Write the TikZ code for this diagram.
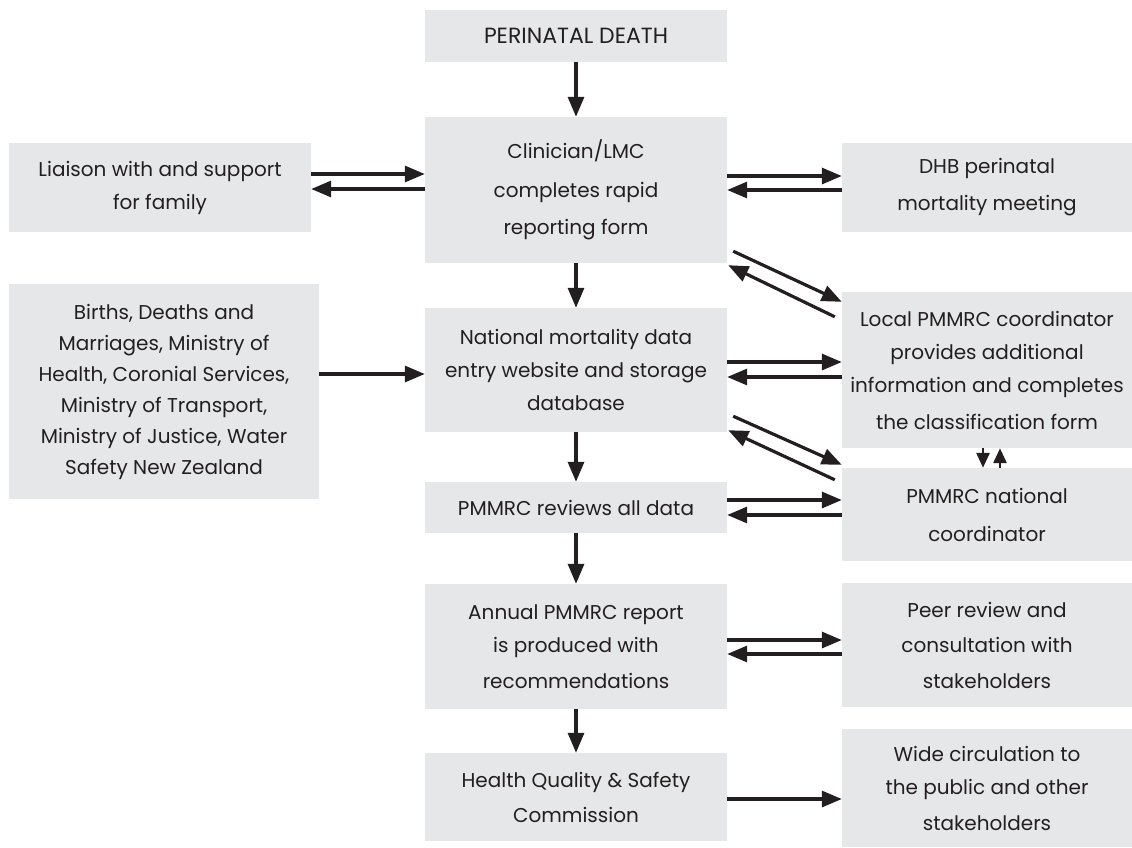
\documentclass[tikz,border=0pt]{standalone}
\usepackage{fontspec}
\setmainfont{Poppins}
\usetikzlibrary{arrows.meta}
\definecolor{boxgray}{HTML}{E6E7E8}
\definecolor{ink}{HTML}{231F20}
\begin{document}
\begin{tikzpicture}[x=1pt,y=-1pt,
  box/.style={fill=boxgray, draw=none, inner sep=0pt, align=center, text=ink,
    font=\fontsize{20}{33}\selectfont},
  arr/.style={draw=ink, line width=3.2pt, -{Triangle[length=20pt,width=16pt]}},
  sarr/.style={draw=ink, line width=2.8pt, -{Triangle[length=15pt,width=13pt]}}]
\useasboundingbox (0,0) rectangle (1132,847);
% central column
\node[box, minimum width=302pt, minimum height=52pt, font=\fontsize{22}{33}\selectfont] (death) at (576,36) {PERINATAL DEATH};
\node[box, minimum width=302pt, minimum height=146pt] (clin) at (576,190)
  {Clinician/LMC\\[6pt] completes rapid\\[4pt] reporting form};
\node[box, minimum width=302pt, minimum height=124pt] (natl) at (576,370)
  {National mortality data\\ entry website and storage\\ database};
\node[box, minimum width=302pt, minimum height=51pt] (review) at (576,507.5) {PMMRC reviews all data};
\node[box, minimum width=302pt, minimum height=125pt] (annual) at (576,646.5)
  {Annual PMMRC report\\ is produced with\\[3pt] recommendations};
\node[box, minimum width=302pt, minimum height=88pt] (hqsc) at (576,797)
  {Health Quality \& Safety\\[2pt] Commission};
% left column
\node[box, minimum width=302pt, minimum height=89pt] (liaison) at (160,187.5)
  {Liaison with and support\\ for family};
\node[box, minimum width=310pt, minimum height=215pt, font=\fontsize{20}{31}\selectfont] (births) at (164,391.5)
  {Births, Deaths and\\ Marriages, Ministry of\\ Health, Coronial Services,\\ Ministry of Transport,\\ Ministry of Justice, Water\\ Safety New Zealand};
% right column
\node[box, minimum width=290pt, minimum height=89pt] (dhb) at (987,187.5)
  {DHB perinatal\\[4pt] mortality meeting};
\node[box, minimum width=290pt, minimum height=156pt] (local) at (987,370)
  {Local PMMRC coordinator\\ provides additional\\ information and completes\\[4pt] the classification form};
\node[box, minimum width=290pt, minimum height=93pt] (ncoord) at (987,514.5)
  {PMMRC national\\[5pt] coordinator};
\node[box, minimum width=290pt, minimum height=124pt] (peer) at (987,645)
  {Peer review and\\[2pt] consultation with\\[3pt] stakeholders};
\node[box, minimum width=290pt, minimum height=118pt] (wide) at (987,788)
  {Wide circulation to\\ the public and other\\[3pt] stakeholders};
% vertical flow
\draw[arr] (death) -- (clin);
\draw[arr] (clin) -- (natl);
\draw[arr] (natl) -- (review);
\draw[arr] (review) -- (annual);
\draw[arr] (annual) -- (hqsc);
% horizontal pairs
\draw[arr] ([yshift=13.5pt]liaison.east) -- ([yshift=13.5pt]liaison.east -| clin.west);
\draw[arr] ([yshift=-1.5pt]liaison.east -| clin.west) -- ([yshift=-1.5pt]liaison.east);
\draw[arr] ([yshift=11.5pt]dhb.west -| clin.east) -- ([yshift=11.5pt]dhb.west);
\draw[arr] ([yshift=-2.5pt]dhb.west) -- ([yshift=-2.5pt]dhb.west -| clin.east);
\draw[arr] ([yshift=17.5pt]births.east) -- ([yshift=17.5pt]births.east -| natl.west);
\draw[arr] ([yshift=8pt]natl.east) -- ([yshift=8pt]natl.east -| local.west);
\draw[arr] ([yshift=-7pt]natl.east -| local.west) -- ([yshift=-7pt]natl.east);
\draw[arr] ([yshift=7.5pt]review.east) -- ([yshift=7.5pt]review.east -| ncoord.west);
\draw[arr] ([yshift=-7.5pt]review.east -| ncoord.west) -- ([yshift=-7.5pt]review.east);
\draw[arr] ([yshift=6.5pt]annual.east) -- ([yshift=6.5pt]annual.east -| peer.west);
\draw[arr] ([yshift=-7.5pt]annual.east -| peer.west) -- ([yshift=-7.5pt]annual.east);
\draw[arr] ([yshift=-2pt]hqsc.east) -- ([yshift=-2pt]hqsc.east -| wide.west);
% diagonals
\draw[arr] ([xshift=6pt,yshift=12pt]clin.south east) -- ([yshift=-10pt]local.north west);
\draw[arr] ([xshift=-7pt,yshift=-25pt]local.north west) -- ([xshift=1pt,yshift=-2pt]clin.south east);
\draw[arr] ([xshift=6pt,yshift=16pt]natl.south east) -- ([yshift=3pt]ncoord.north west);
\draw[arr] ([xshift=-7pt,yshift=-12pt]ncoord.north west) -- ([xshift=1pt,yshift=2pt]natl.south east);
% local <-> national coordinator
\draw[sarr] ([xshift=-4pt]local.south) -- ([xshift=-4pt]local.south |- ncoord.north);
\draw[sarr] ([xshift=13pt]local.south |- ncoord.north) -- ([xshift=13pt]local.south);
\end{tikzpicture}
\end{document}
